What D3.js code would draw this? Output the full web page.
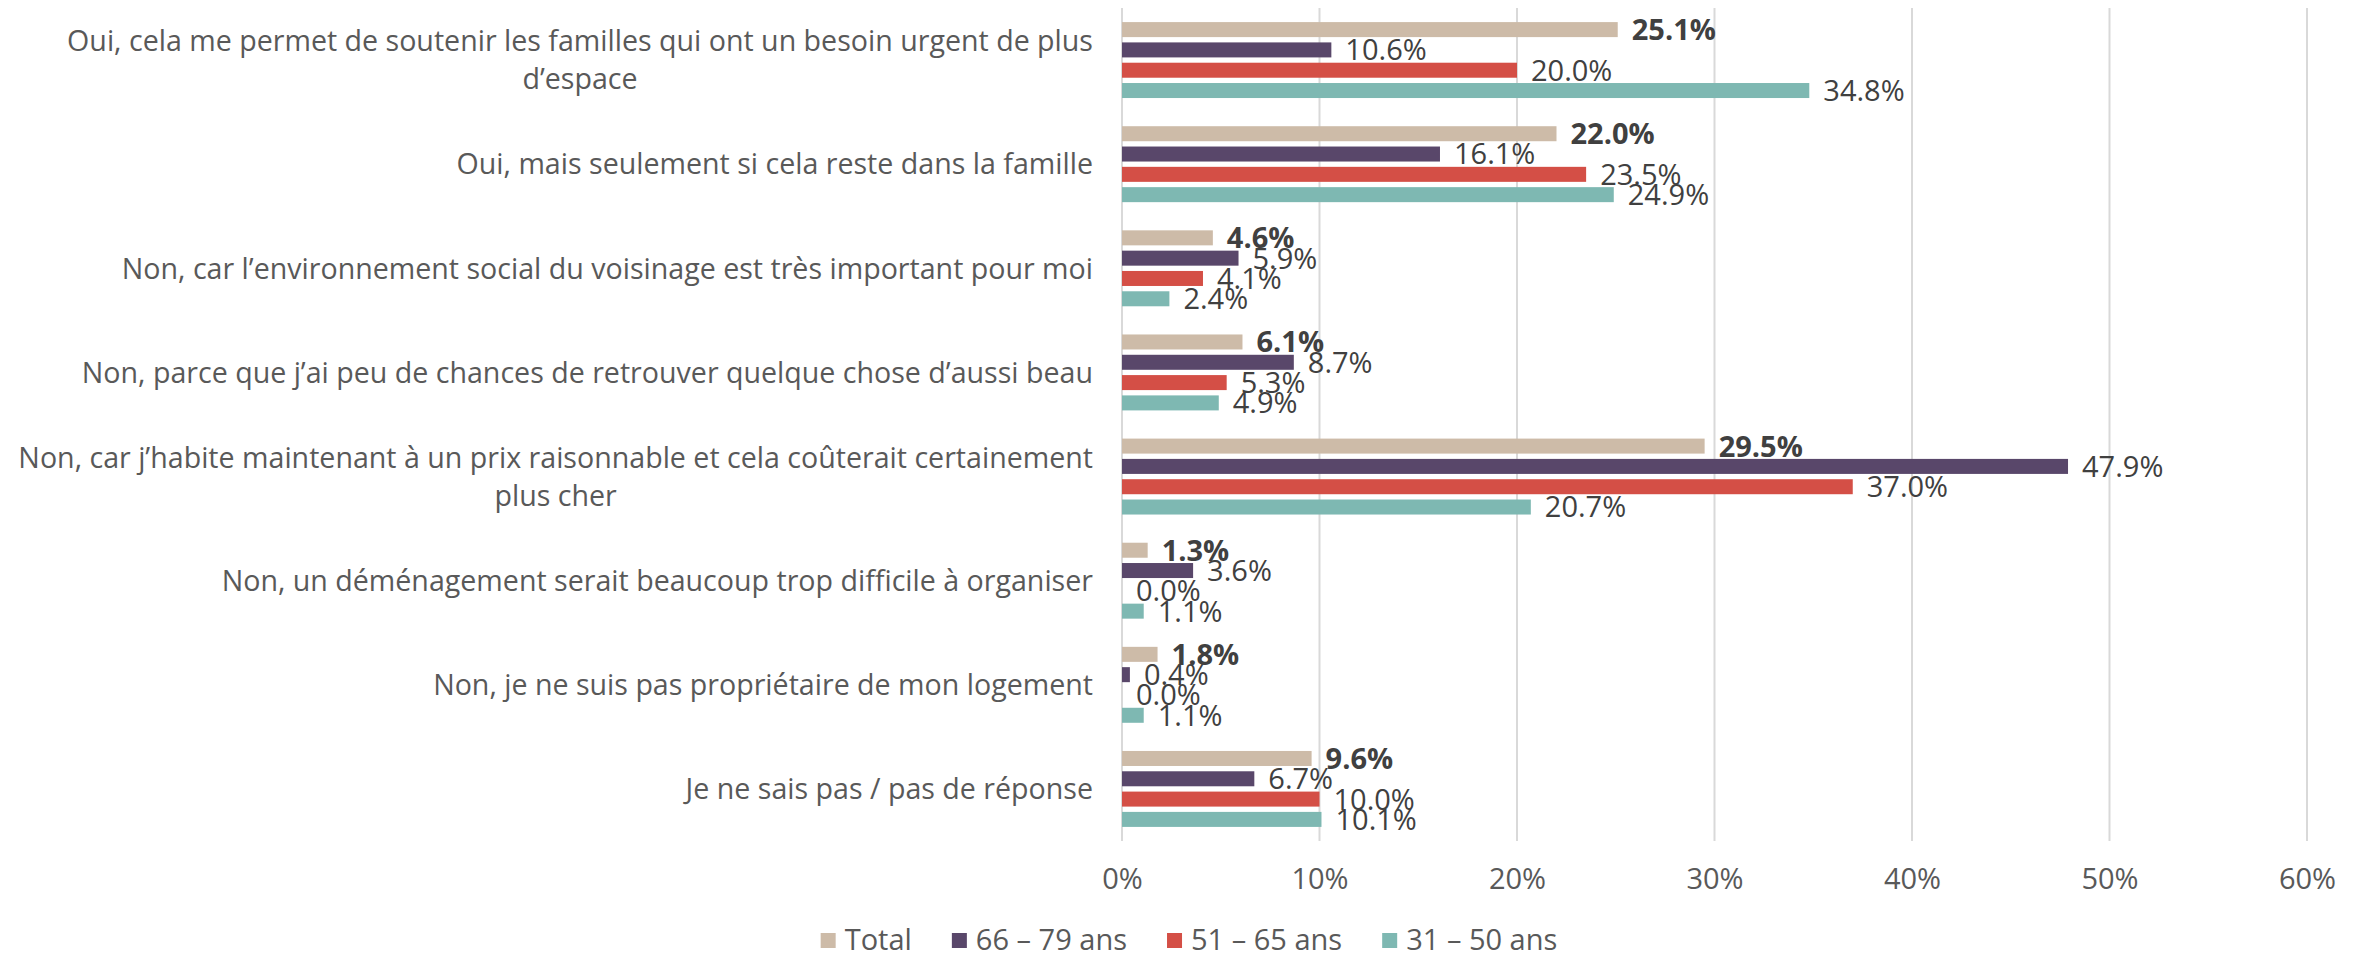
<!DOCTYPE html>
<html>
<head>
<meta charset="utf-8">
<script src="https://cdn.jsdelivr.net/npm/d3@7"></script>
<style>
  body { margin: 0; background: #fff; }
  svg { display: block; font-family: "Open Sans", sans-serif; }
</style>
</head>
<body>
<svg width="2364" height="953"></svg>
<script>
// categories (each entry is the list of lines of the label)
var categories = [
  ["Oui, cela me permet de soutenir les familles qui ont un besoin urgent de plus", "d\u2019espace"],
  ["Oui, mais seulement si cela reste dans la famille"],
  ["Non, car l\u2019environnement social du voisinage est tr\u00e8s important pour moi"],
  ["Non, parce que j\u2019ai peu de chances de retrouver quelque chose d\u2019aussi beau"],
  ["Non, car j\u2019habite maintenant \u00e0 un prix raisonnable et cela co\u00fbterait certainement", "plus cher"],
  ["Non, un d\u00e9m\u00e9nagement serait beaucoup trop difficile \u00e0 organiser"],
  ["Non, je ne suis pas propri\u00e9taire de mon logement"],
  ["Je ne sais pas / pas de r\u00e9ponse"]
];

var series = ["Total", "66 \u2013 79 ans", "51 \u2013 65 ans", "31 \u2013 50 ans"];
var colors = ["#CDBBA8", "#59476A", "#D44F46", "#7EB8B2"];

// values in %, one array per series
var total   = [25.1, 22.0, 4.6, 6.1, 29.5, 1.3, 1.8, 9.6];
var age6679 = [10.6, 16.1, 5.9, 8.7, 47.9, 3.6, 0.4, 6.7];
var age5165 = [20.0, 23.5, 4.1, 5.3, 37.0, 0.0, 0.0, 10.0];
var age3150 = [34.8, 24.9, 2.4, 4.9, 20.7, 1.1, 1.1, 10.1];
var values = [total, age6679, age5165, age3150];

var xTicks = [0, 10, 20, 30, 40, 50, 60];

var svg = d3.select("svg");

var x = d3.scaleLinear().domain([0, 60]).range([1122, 2307]);
var y0 = d3.scaleBand().domain(d3.range(categories.length)).range([8, 841]);
var y1 = d3.scaleBand().domain(d3.range(series.length))
  .range([0, y0.bandwidth()]).paddingInner(0.261).paddingOuter(0.694);

// gridlines
svg.append("g").selectAll("line").data(xTicks).enter().append("line")
  .attr("x1", function(d) { return x(d); })
  .attr("x2", function(d) { return x(d); })
  .attr("y1", 8).attr("y2", 841)
  .attr("stroke", "#D9D9D9").attr("stroke-width", 2);

// x axis labels
var xAxis = d3.axisBottom(x).tickValues(xTicks)
  .tickFormat(function(d) { return d + "%"; }).tickSize(0).tickPadding(0);
var ax = svg.append("g").attr("transform", "translate(0,868)").call(xAxis);
ax.select(".domain").remove();
ax.selectAll("text").attr("font-size", 29).attr("fill", "#595959")
  .attr("font-family", "Open Sans, sans-serif");

// bars
var rows = [];
values.forEach(function(arr, s) {
  arr.forEach(function(v, c) { rows.push({ s: s, c: c, v: v }); });
});

svg.append("g").selectAll("rect").data(rows).enter().append("rect")
  .attr("x", x(0))
  .attr("y", function(d) { return y0(d.c) + y1(d.s); })
  .attr("width", function(d) { return x(d.v) - x(0); })
  .attr("height", y1.bandwidth())
  .attr("fill", function(d) { return colors[d.s]; });

// data labels
svg.append("g").selectAll("text").data(rows).enter().append("text")
  .attr("x", function(d) { return x(d.v) + 14; })
  .attr("y", function(d) { return y0(d.c) + y1(d.s) + y1.bandwidth() / 2; })
  .attr("dy", "0.36em")
  .attr("font-size", 29)
  .attr("font-weight", function(d) { return d.s === 0 ? 700 : 400; })
  .attr("fill", "#404040")
  .text(function(d) { return d.v.toFixed(1) + "%"; });

// category labels, right aligned block, lines centred within it
var labelRight = 1093, lineH = 38;
var catG = svg.append("g").selectAll("g").data(categories).enter().append("g");
catG.each(function(lines, i) {
  var g = d3.select(this);
  var cy = y0(i) + y0.bandwidth() / 2;
  var texts = g.selectAll("text").data(lines).enter().append("text")
    .attr("font-size", 28.6).attr("fill", "#595959")
    .attr("text-anchor", "middle")
    .attr("dy", "0.36em")
    .attr("y", function(d, k) { return cy + (k - (lines.length - 1) / 2) * lineH; })
    .text(function(d) { return d; });
  var maxW = 0;
  texts.each(function() { maxW = Math.max(maxW, this.getComputedTextLength()); });
  texts.attr("x", labelRight - maxW / 2);
});

// legend
var legend = svg.append("g");
var items = legend.selectAll("g").data(series).enter().append("g");
items.append("rect").attr("width", 15).attr("height", 15).attr("y", -7)
  .attr("fill", function(d, i) { return colors[i]; });
items.append("text").attr("x", 24).attr("dy", "0.36em")
  .attr("font-size", 29).attr("fill", "#595959")
  .text(function(d) { return d; });
var pos = 0, offsets = [];
items.each(function() {
  offsets.push(pos);
  pos += 24 + d3.select(this).select("text").node().getComputedTextLength() + 40;
});
var legendW = pos - 40;
var legendX = 1189 - legendW / 2;
items.attr("transform", function(d, i) { return "translate(" + (legendX + offsets[i]) + ",940)"; });
</script>
</body>
</html>
